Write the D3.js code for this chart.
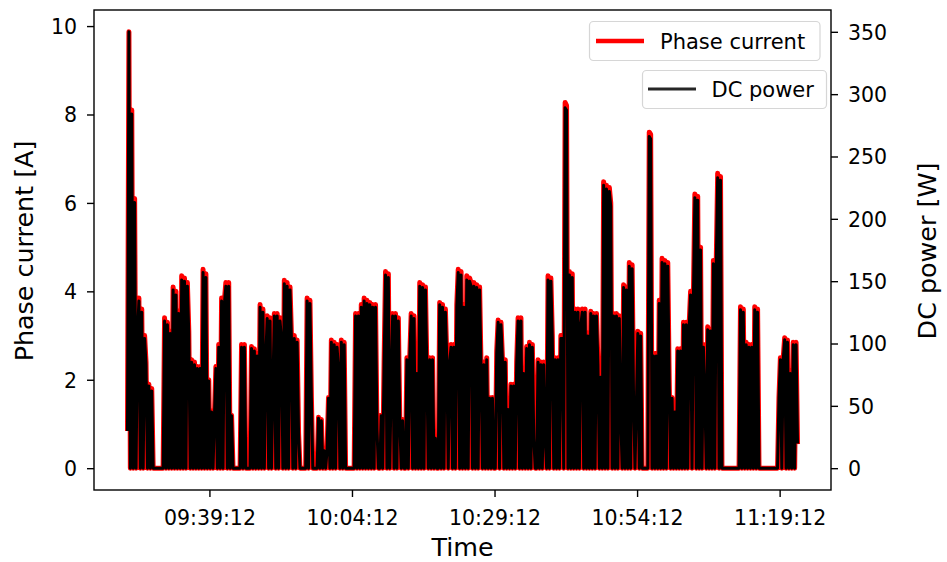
<!DOCTYPE html>
<html>
<head>
<meta charset="utf-8">
<script src="https://cdn.jsdelivr.net/npm/d3@7"></script>
<style>
  html, body { margin: 0; padding: 0; background: #fff; }
  svg { display: block; font-family: "DejaVu Sans", sans-serif; }
</style>
</head>
<body>
<svg id="chart" width="947" height="562"></svg>
<script>
// Logged drive data: one sample every 15 s from the start time below.
const sampleStart = "09:24:50";
const sampleStepSeconds = 15;

// Phase current [A]
const phaseCurrent = [
  0.9, 9.87, 0, 8.1, 0, 6.1, 0, 3.1, 3.85, 0,
  3.6, 0, 3.0, 2.4, 0, 1.9, 0, 1.8, 0, 0,
  0, 0, 0, 0, 0, 0, 3.4, 0, 3.3, 0,
  3.1, 0, 4.1, 0, 4.0, 0, 3.55, 0, 4.35, 0,
  4.3, 0, 4.2, 3.1, 0, 2.45, 0, 2.4, 0, 2.3,
  0, 2.3, 0, 4.5, 0, 4.4, 0, 2.0, 0, 1.3,
  0, 1.2, 2.3, 0, 2.8, 0, 3.85, 0, 3.8, 4.2,
  0, 4.2, 0, 1.2, 0, 0, 0, 0, 0, 0,
  2.8, 0, 2.8, 0, 0, 0, 0, 2.75, 0, 2.7,
  0, 2.6, 0, 3.7, 0, 3.6, 0, 2.6, 3.45, 0,
  3.4, 0, 1.9, 3.5, 0, 3.5, 0, 3.4, 3.0, 0,
  4.25, 0, 4.2, 0, 4.1, 3.0, 0, 3.0, 0, 2.9,
  0.8, 0, 0, 0, 0, 0, 3.85, 0, 3.8, 1.6,
  0, 0, 0, 0, 1.15, 0, 1.1, 0, 0.4, 0,
  0.4, 1.6, 0, 2.9, 0, 2.85, 0, 2.8, 2.3, 0,
  2.9, 0, 2.85, 0, 0, 0, 0, 0, 0, 0,
  3.5, 0, 3.5, 0, 3.7, 0, 3.85, 0, 3.8, 0,
  3.75, 0, 3.7, 0, 3.7, 0.9, 0, 0, 1.2, 0,
  2.4, 4.45, 0, 4.4, 0, 2.0, 3.5, 0, 3.5, 0,
  3.4, 1.1, 0, 1.1, 0, 0, 2.5, 0, 2.5, 3.5,
  0, 3.45, 0, 2.2, 0, 4.2, 0, 4.15, 0, 4.1,
  2.3, 0, 2.5, 0, 2.5, 0, 0.7, 0, 0, 3.75,
  0, 3.7, 0, 3.6, 2.5, 0, 2.45, 2.8, 0, 2.8,
  0, 3.7, 4.5, 0, 4.45, 0, 3.7, 0, 4.35, 0,
  4.3, 4.2, 0, 4.2, 0, 4.15, 0, 4.1, 2.3, 0,
  2.4, 0, 2.5, 0, 1.6, 0, 1.6, 0, 0, 2.65,
  3.35, 0, 3.3, 2.5, 0, 2.45, 0, 1.35, 0, 1.9,
  0, 1.9, 0, 2.4, 3.4, 0, 3.4, 0, 2.2, 0,
  2.75, 0, 2.85, 0, 2.8, 0.7, 0, 0, 2.45, 0,
  2.4, 0, 2.4, 0.7, 0, 4.35, 0, 4.3, 3.0, 0,
  2.5, 0, 2.5, 0, 3.0, 3.0, 0, 8.27, 8.2, 0,
  4.45, 0, 4.4, 0, 3.6, 0, 3.6, 0, 3.3, 3.6,
  0, 3.6, 0, 3.05, 0, 3.55, 0, 3.5, 0, 3.5,
  2.4, 0, 2.1, 0, 6.48, 0, 6.4, 0, 6.35, 6.0,
  0, 3.5, 0, 3.5, 0, 3.45, 1.2, 0, 4.15, 0,
  4.1, 0, 4.65, 0, 4.6, 1.6, 0, 1.5, 3.1, 0,
  3.05, 0, 0, 0, 0, 0, 7.6, 7.55, 0, 2.6,
  0, 2.6, 0, 3.8, 0, 4.75, 0, 4.7, 0, 4.65,
  2.0, 0, 1.6, 0, 1.3, 0, 2.7, 0, 2.7, 0,
  3.3, 0, 3.3, 0, 3.25, 4.0, 0, 3.95, 6.2, 0,
  6.15, 0, 5.0, 0, 2.8, 1.7, 0, 3.2, 0, 3.15,
  0, 4.7, 0, 4.65, 6.67, 0, 6.6, 0, 0, 0,
  0, 0, 0, 0, 0, 0, 0, 0, 0, 0,
  3.65, 0, 3.6, 0, 2.85, 0, 2.8, 0, 2.8, 0,
  3.65, 0, 3.6, 0, 0, 0, 0, 0, 0, 0,
  0, 0, 0, 0, 0, 0, 0, 1.6, 2.5, 0,
  2.5, 2.95, 0, 2.9, 0, 2.2, 0, 2.85, 0, 2.85,
  0.6
];

// DC power [W]
const dcPower = [
  31, 350, 0, 284, 0, 213, 0, 108, 134, 0,
  125, 0, 104, 83, 0, 66, 0, 62, 0, 0,
  0, 0, 0, 0, 0, 0, 118, 0, 115, 0,
  108, 0, 143, 0, 139, 0, 124, 0, 151, 0,
  150, 0, 146, 108, 0, 85, 0, 83, 0, 80,
  0, 80, 0, 157, 0, 153, 0, 70, 0, 45,
  0, 42, 80, 0, 97, 0, 134, 0, 132, 146,
  0, 146, 0, 42, 0, 0, 0, 0, 0, 0,
  97, 0, 97, 0, 0, 0, 0, 96, 0, 94,
  0, 90, 0, 129, 0, 125, 0, 90, 120, 0,
  118, 0, 66, 122, 0, 122, 0, 118, 104, 0,
  148, 0, 146, 0, 143, 104, 0, 104, 0, 101,
  28, 0, 0, 0, 0, 0, 134, 0, 132, 56,
  0, 0, 0, 0, 40, 0, 38, 0, 14, 0,
  14, 56, 0, 101, 0, 99, 0, 97, 80, 0,
  101, 0, 99, 0, 0, 0, 0, 0, 0, 0,
  122, 0, 122, 0, 129, 0, 134, 0, 132, 0,
  131, 0, 129, 0, 129, 31, 0, 0, 42, 0,
  83, 155, 0, 153, 0, 70, 122, 0, 122, 0,
  118, 38, 0, 38, 0, 0, 87, 0, 87, 122,
  0, 120, 0, 76, 0, 146, 0, 145, 0, 143,
  80, 0, 87, 0, 87, 0, 24, 0, 0, 131,
  0, 129, 0, 125, 87, 0, 85, 97, 0, 97,
  0, 129, 157, 0, 155, 0, 129, 0, 151, 0,
  150, 146, 0, 146, 0, 145, 0, 143, 80, 0,
  83, 0, 87, 0, 56, 0, 56, 0, 0, 92,
  117, 0, 115, 87, 0, 85, 0, 47, 0, 66,
  0, 66, 0, 83, 118, 0, 118, 0, 76, 0,
  96, 0, 99, 0, 97, 24, 0, 0, 85, 0,
  83, 0, 83, 24, 0, 151, 0, 150, 104, 0,
  87, 0, 87, 0, 104, 104, 0, 289, 287, 0,
  155, 0, 153, 0, 125, 0, 125, 0, 115, 125,
  0, 125, 0, 106, 0, 124, 0, 122, 0, 122,
  83, 0, 73, 0, 227, 0, 224, 0, 222, 210,
  0, 122, 0, 122, 0, 120, 42, 0, 145, 0,
  143, 0, 162, 0, 160, 56, 0, 52, 108, 0,
  106, 0, 0, 0, 0, 0, 266, 264, 0, 90,
  0, 90, 0, 132, 0, 165, 0, 164, 0, 162,
  70, 0, 56, 0, 45, 0, 94, 0, 94, 0,
  115, 0, 115, 0, 113, 139, 0, 138, 217, 0,
  215, 0, 175, 0, 97, 59, 0, 111, 0, 110,
  0, 164, 0, 162, 233, 0, 231, 0, 0, 0,
  0, 0, 0, 0, 0, 0, 0, 0, 0, 0,
  127, 0, 125, 0, 99, 0, 97, 0, 97, 0,
  127, 0, 125, 0, 0, 0, 0, 0, 0, 0,
  0, 0, 0, 0, 0, 0, 0, 56, 87, 0,
  87, 103, 0, 101, 0, 76, 0, 99, 0, 99,
  21
];

const timeTickLabels = ["09:39:12", "10:04:12", "10:29:12", "10:54:12", "11:19:12"];
const currentTicks = [0, 2, 4, 6, 8, 10];
const powerTicks = [0, 50, 100, 150, 200, 250, 300, 350];
const seriesNames = ["Phase current", "DC power"];
const seriesColors = ["#ff0000", "#000000"];

// ---- layout ----
const plot = { left: 94, right: 831, top: 10, bottom: 490 };
const tickFont = 20.5;
const labelFont = 25.4;
const legendFont = 21;

const parseClock = d3.timeParse("%H:%M:%S");
const fmtClock = d3.timeFormat("%H:%M:%S");
const t0 = parseClock(sampleStart);
const times = phaseCurrent.map((_, i) => d3.timeSecond.offset(t0, i * sampleStepSeconds));

// 5% autoscale margin on every axis
function padded([lo, hi]) { const p = (hi - lo) * 0.05; return [lo - p, hi + p]; }
const [tLo, tHi] = padded(d3.extent(times, d => +d));

const x = d3.scaleTime().domain([new Date(tLo), new Date(tHi)]).range([plot.left, plot.right]);
const yCur = d3.scaleLinear().domain(padded(d3.extent(phaseCurrent))).range([plot.bottom, plot.top]);
const yPow = d3.scaleLinear().domain(padded(d3.extent(dcPower))).range([plot.bottom, plot.top]);

const svg = d3.select("#chart");
svg.append("rect").attr("width", 947).attr("height", 562).attr("fill", "#fff");

svg.append("clipPath").attr("id", "plot-clip")
  .append("rect")
  .attr("x", plot.left).attr("y", plot.top)
  .attr("width", plot.right - plot.left).attr("height", plot.bottom - plot.top);

const lines = svg.append("g").attr("clip-path", "url(#plot-clip)");

const currentLine = d3.line().x((d, i) => x(times[i])).y(d => yCur(d));
const powerLine = d3.line().x((d, i) => x(times[i])).y(d => yPow(d));

lines.append("path")
  .datum(phaseCurrent)
  .attr("d", currentLine)
  .attr("fill", "none")
  .attr("stroke", seriesColors[0])
  .attr("stroke-width", 5)
  .attr("stroke-linejoin", "round")
  .attr("stroke-linecap", "square");

lines.append("path")
  .datum(dcPower)
  .attr("d", powerLine)
  .attr("fill", "none")
  .attr("stroke", seriesColors[1])
  .attr("stroke-width", 3)
  .attr("stroke-linejoin", "round")
  .attr("stroke-linecap", "square");

// ---- axes ----
function styleAxis(g) {
  g.select(".domain").remove();
  g.attr("font-family", null).attr("font-size", null);
  g.selectAll(".tick line").attr("stroke", "#000").attr("stroke-width", 1.4);
  g.selectAll(".tick text").attr("fill", "#000").style("font-size", tickFont + "px");
}

svg.append("g")
  .attr("transform", `translate(${plot.left},0)`)
  .call(d3.axisLeft(yCur).tickValues(currentTicks).tickSize(7).tickPadding(10).tickFormat(d3.format("d")))
  .call(styleAxis)
  .call(g => g.selectAll(".tick text").attr("dy", "0.36em"));

svg.append("g")
  .attr("transform", `translate(${plot.right},0)`)
  .call(d3.axisRight(yPow).tickValues(powerTicks).tickSize(7).tickPadding(10).tickFormat(d3.format("d")))
  .call(styleAxis)
  .call(g => g.selectAll(".tick text").attr("dy", "0.36em"));

svg.append("g")
  .attr("transform", `translate(0,${plot.bottom})`)
  .call(d3.axisBottom(x).tickValues(timeTickLabels.map(parseClock)).tickSize(7).tickFormat(fmtClock))
  .call(styleAxis)
  .call(g => g.selectAll(".tick text").attr("y", 35).attr("dy", 0));

// frame
svg.append("rect")
  .attr("x", plot.left).attr("y", plot.top)
  .attr("width", plot.right - plot.left).attr("height", plot.bottom - plot.top)
  .attr("fill", "none").attr("stroke", "#000").attr("stroke-width", 1.4);

// axis titles
svg.append("text")
  .attr("x", (plot.left + plot.right) / 2).attr("y", 555.5)
  .attr("text-anchor", "middle")
  .style("font-size", labelFont + "px").attr("fill", "#000")
  .text("Time");

svg.append("text")
  .attr("transform", "translate(33,251) rotate(-90)")
  .attr("text-anchor", "middle")
  .style("font-size", labelFont + "px").attr("fill", "#000")
  .text("Phase current [A]");

svg.append("text")
  .attr("transform", "translate(936,251) rotate(-90)")
  .attr("text-anchor", "middle")
  .style("font-size", labelFont + "px").attr("fill", "#000")
  .text("DC power [W]");

// ---- legends (one per axis) ----
const legendBoxes = [
  { x: 589.5, y: 21.5, w: 230.5, h: 39, lineX: 596, lineY: 41, textX: 660, textY: 48.5, width: 4.5, color: seriesColors[0] },
  { x: 642.5, y: 70.5, w: 184, h: 38, lineX: 648, lineY: 89, textX: 711.5, textY: 96.5, width: 3, color: "#262626" }
];

legendBoxes.forEach((b, i) => {
  const g = svg.append("g");
  g.append("rect")
    .attr("x", b.x).attr("y", b.y).attr("width", b.w).attr("height", b.h)
    .attr("rx", 4).attr("ry", 4)
    .attr("fill", "#fff").attr("fill-opacity", 0.8)
    .attr("stroke", "#d6d6d6").attr("stroke-width", 1.2);
  g.append("line")
    .attr("x1", b.lineX).attr("x2", b.lineX + 48)
    .attr("y1", b.lineY).attr("y2", b.lineY)
    .attr("stroke", b.color)
    .attr("stroke-width", b.width);
  g.append("text")
    .attr("x", b.textX).attr("y", b.textY)
    .style("font-size", legendFont + "px").attr("fill", "#000")
    .text(seriesNames[i]);
});
</script>
</body>
</html>
